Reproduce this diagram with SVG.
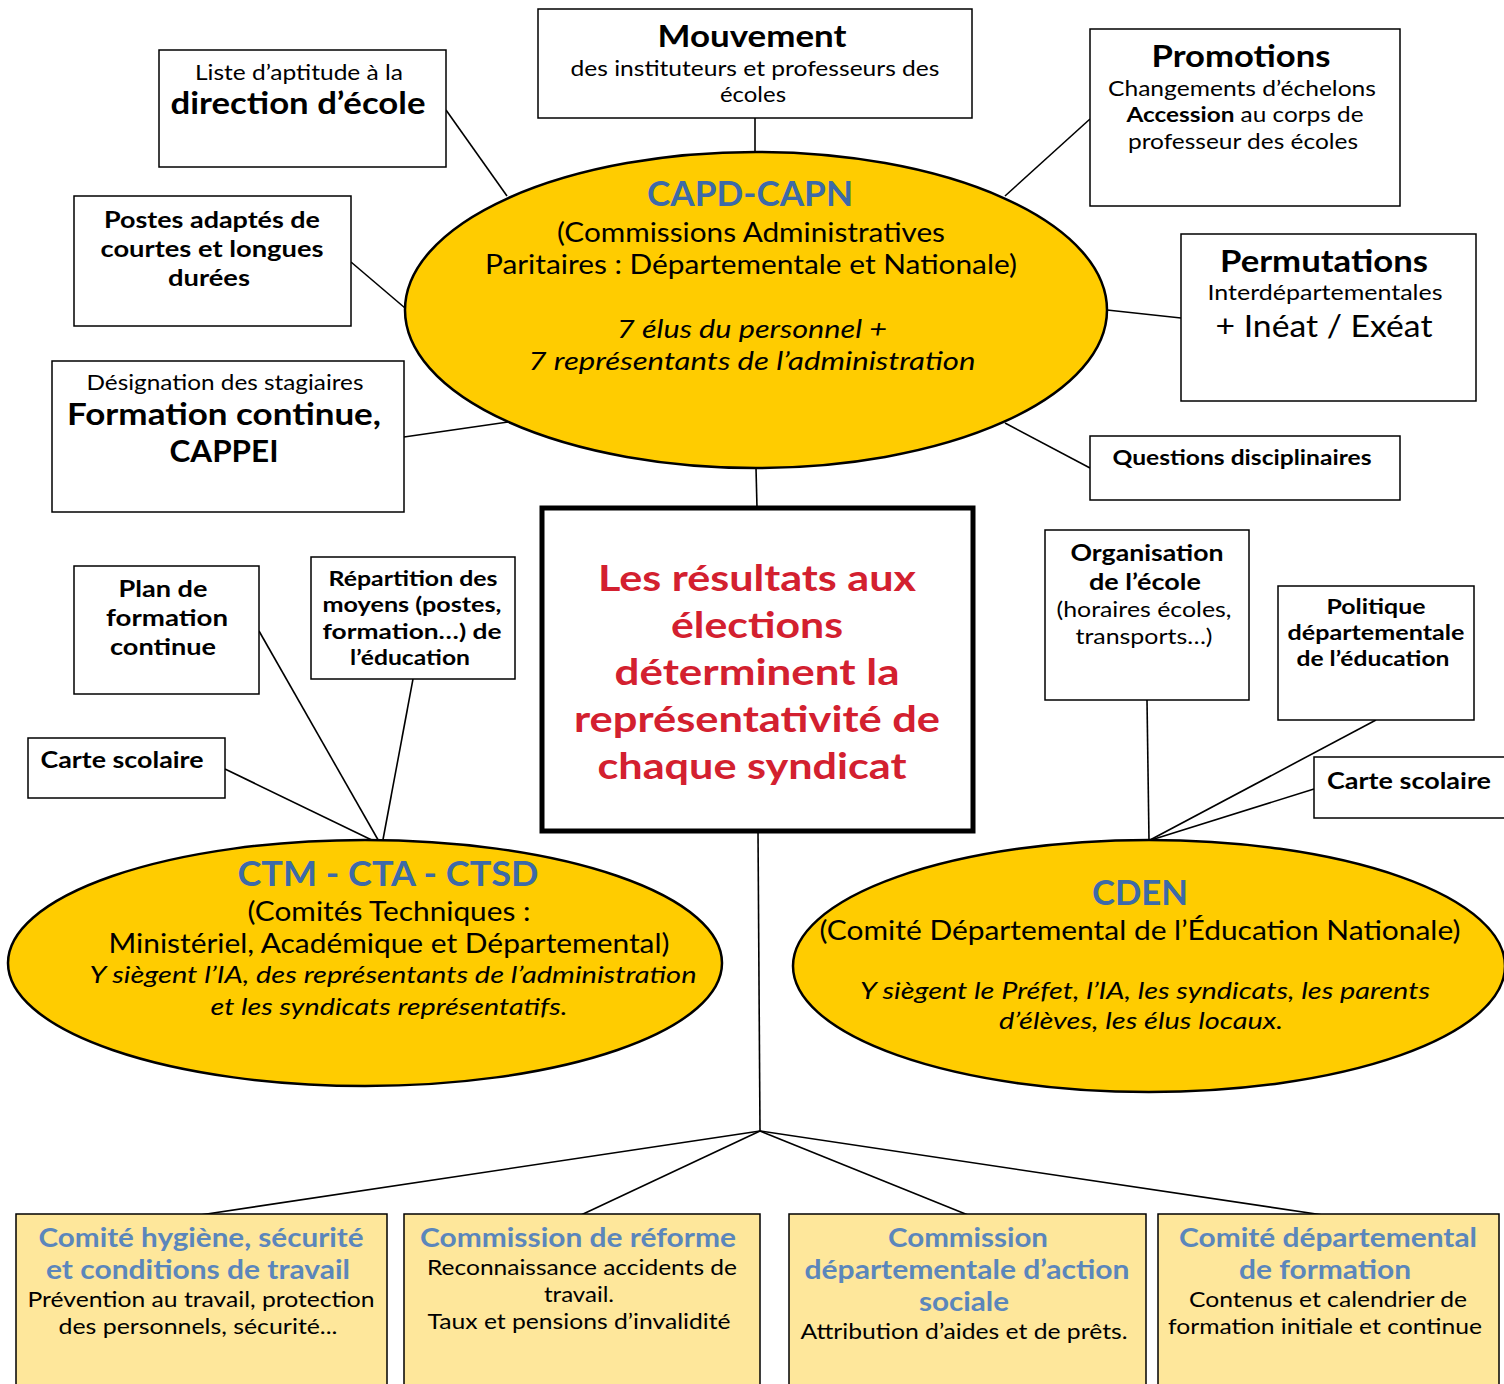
<svg xmlns="http://www.w3.org/2000/svg" width="1504" height="1384" viewBox="0 0 1504 1384">
<style>
text{font-family:Lato,"Liberation Sans",sans-serif;text-anchor:middle;fill:#000}
.b{font-weight:bold}
.i{font-style:italic}
.box{fill:#fff;stroke:#000;stroke-width:1.5}
.ell{fill:#ffcc00;stroke:#000;stroke-width:2.5}
.yb{fill:#fee79b;stroke:#000;stroke-width:1.5}
.blue{fill:#3d6aa8}
.lb{fill:#5b86bb}
.red{fill:#d3202f}
.c line{stroke:#000;stroke-width:1.6}
</style>
<rect width="1504" height="1384" fill="#fff"/>
<g class="c" id="connectors">
<line x1="755" y1="118" x2="755" y2="152"/>
<line x1="446" y1="110" x2="507" y2="196"/>
<line x1="351" y1="262" x2="405" y2="308"/>
<line x1="404" y1="437" x2="508" y2="422"/>
<line x1="1090" y1="119" x2="1005" y2="196"/>
<line x1="1181" y1="318" x2="1107" y2="310"/>
<line x1="1090" y1="468" x2="1005" y2="423"/>
<line x1="756" y1="468" x2="757" y2="508"/>
<line x1="758" y1="831" x2="760" y2="1131"/>
<line x1="760" y1="1131" x2="200" y2="1215"/>
<line x1="760" y1="1131" x2="581" y2="1215"/>
<line x1="760" y1="1131" x2="968" y2="1215"/>
<line x1="760" y1="1131" x2="1323" y2="1215"/>
<line x1="259" y1="631" x2="381" y2="845"/>
<line x1="413" y1="679" x2="382" y2="845"/>
<line x1="225" y1="769" x2="380" y2="844"/>
<line x1="1147" y1="700" x2="1149" y2="840"/>
<line x1="1376" y1="720" x2="1150" y2="840"/>
<line x1="1314" y1="789" x2="1151" y2="840"/>
</g>
<g id="liste">
<rect class="box" x="159" y="50" width="287" height="117"/>
<text x="299" y="80" font-size="21" textLength="208" lengthAdjust="spacingAndGlyphs">Liste d’aptitude à la</text>
<text class="b" x="298" y="114" font-size="30" textLength="255" lengthAdjust="spacingAndGlyphs">direction d’école</text>
</g>
<g id="mouvement">
<rect class="box" x="538" y="9" width="434" height="109"/>
<text class="b" x="752" y="47" font-size="30" textLength="189" lengthAdjust="spacingAndGlyphs">Mouvement</text>
<text x="755" y="76" font-size="21" textLength="369" lengthAdjust="spacingAndGlyphs">des instituteurs et professeurs des</text>
<text x="753" y="102" font-size="21" textLength="66" lengthAdjust="spacingAndGlyphs">écoles</text>
</g>
<g id="promotions">
<rect class="box" x="1090" y="29" width="310" height="177"/>
<text class="b" x="1241" y="67" font-size="30" textLength="179" lengthAdjust="spacingAndGlyphs">Promotions</text>
<text x="1242" y="96" font-size="21" textLength="268" lengthAdjust="spacingAndGlyphs">Changements d’échelons</text>
<text x="1245" y="122" font-size="21" textLength="237" lengthAdjust="spacingAndGlyphs"><tspan class="b">Accession</tspan> au corps de</text>
<text x="1243" y="149" font-size="21" textLength="230" lengthAdjust="spacingAndGlyphs">professeur des écoles</text>
</g>
<g id="postes">
<rect class="box" x="74" y="196" width="277" height="130"/>
<text class="b" x="212" y="228" font-size="23" textLength="216" lengthAdjust="spacingAndGlyphs">Postes adaptés de</text>
<text class="b" x="212" y="257" font-size="23" textLength="223" lengthAdjust="spacingAndGlyphs">courtes et longues</text>
<text class="b" x="209" y="286" font-size="23" textLength="82" lengthAdjust="spacingAndGlyphs">durées</text>
</g>
<g id="permutations">
<rect class="box" x="1181" y="234" width="295" height="167"/>
<text class="b" x="1324" y="272" font-size="30" textLength="208" lengthAdjust="spacingAndGlyphs">Permutations</text>
<text x="1325" y="300" font-size="21" textLength="235" lengthAdjust="spacingAndGlyphs">Interdépartementales</text>
<text x="1324" y="337" font-size="31" textLength="217" lengthAdjust="spacingAndGlyphs">+ Inéat / Exéat</text>
</g>
<g id="designation">
<rect class="box" x="52" y="361" width="352" height="151"/>
<text x="225" y="390" font-size="21" textLength="277" lengthAdjust="spacingAndGlyphs">Désignation des stagiaires</text>
<text class="b" x="224" y="425" font-size="30" textLength="314" lengthAdjust="spacingAndGlyphs">Formation continue,</text>
<text class="b" x="224" y="462" font-size="30" textLength="109" lengthAdjust="spacingAndGlyphs">CAPPEI</text>
</g>
<g id="questions">
<rect class="box" x="1090" y="436" width="310" height="64"/>
<text class="b" x="1242" y="465" font-size="21" textLength="259" lengthAdjust="spacingAndGlyphs">Questions disciplinaires</text>
</g>
<g id="capd">
<ellipse class="ell" cx="756" cy="310" rx="351" ry="158"/>
<text class="b blue" x="750" y="206" font-size="34" textLength="206" lengthAdjust="spacingAndGlyphs">CAPD-CAPN</text>
<text x="751" y="242" font-size="26" textLength="388" lengthAdjust="spacingAndGlyphs">(Commissions Administratives</text>
<text x="751" y="274" font-size="26" textLength="532" lengthAdjust="spacingAndGlyphs">Paritaires : Départementale et Nationale)</text>
<text class="i" x="752" y="338" font-size="26" textLength="270" lengthAdjust="spacingAndGlyphs">7 élus du personnel +</text>
<text class="i" x="752" y="370" font-size="26" textLength="447" lengthAdjust="spacingAndGlyphs">7 représentants de l’administration</text>
</g>
<g id="resultats">
<rect x="542" y="508" width="431" height="323" fill="#fff" stroke="#000" stroke-width="5"/>
<text class="b red" x="757" y="591" font-size="37" textLength="318" lengthAdjust="spacingAndGlyphs">Les résultats aux</text>
<text class="b red" x="757" y="638" font-size="37" textLength="172" lengthAdjust="spacingAndGlyphs">élections</text>
<text class="b red" x="757" y="685" font-size="37" textLength="285" lengthAdjust="spacingAndGlyphs">déterminent la</text>
<text class="b red" x="757" y="732" font-size="37" textLength="366" lengthAdjust="spacingAndGlyphs">représentativité de</text>
<text class="b red" x="752" y="779" font-size="37" textLength="309" lengthAdjust="spacingAndGlyphs">chaque syndicat</text>
</g>
<g id="plan">
<rect class="box" x="74" y="566" width="185" height="128"/>
<text class="b" x="163" y="597" font-size="23" textLength="89" lengthAdjust="spacingAndGlyphs">Plan de</text>
<text class="b" x="167" y="626" font-size="23" textLength="122" lengthAdjust="spacingAndGlyphs">formation</text>
<text class="b" x="163" y="655" font-size="23" textLength="106" lengthAdjust="spacingAndGlyphs">continue</text>
</g>
<g id="repartition">
<rect class="box" x="311" y="557" width="204" height="122"/>
<text class="b" x="413" y="586" font-size="21" textLength="169" lengthAdjust="spacingAndGlyphs">Répartition des</text>
<text class="b" x="412" y="612" font-size="21" textLength="179" lengthAdjust="spacingAndGlyphs">moyens (postes,</text>
<text class="b" x="412" y="639" font-size="21" textLength="179" lengthAdjust="spacingAndGlyphs">formation…)  de</text>
<text class="b" x="410" y="665" font-size="21" textLength="120" lengthAdjust="spacingAndGlyphs">l’éducation</text>
</g>
<g id="carte1">
<rect class="box" x="28" y="738" width="197" height="60"/>
<text class="b" x="122" y="768" font-size="23" textLength="163" lengthAdjust="spacingAndGlyphs">Carte scolaire</text>
</g>
<g id="ctm">
<ellipse class="ell" cx="365" cy="963" rx="357" ry="123"/>
<text class="b blue" x="388" y="886" font-size="34" textLength="301" lengthAdjust="spacingAndGlyphs">CTM - CTA - CTSD</text>
<text x="389" y="921" font-size="26" textLength="283" lengthAdjust="spacingAndGlyphs">(Comités Techniques :</text>
<text x="389" y="953" font-size="26" textLength="561" lengthAdjust="spacingAndGlyphs">Ministériel, Académique et Départemental)</text>
<text class="i" x="393" y="983" font-size="24" textLength="607" lengthAdjust="spacingAndGlyphs">Y siègent l’IA, des représentants de l’administration</text>
<text class="i" x="389" y="1015" font-size="24" textLength="357" lengthAdjust="spacingAndGlyphs">et les syndicats représentatifs.</text>
</g>
<g id="organisation">
<rect class="box" x="1045" y="530" width="204" height="170"/>
<text class="b" x="1147" y="561" font-size="23" textLength="153" lengthAdjust="spacingAndGlyphs">Organisation</text>
<text class="b" x="1145" y="590" font-size="23" textLength="112" lengthAdjust="spacingAndGlyphs">de l’école</text>
<text x="1144" y="617" font-size="21" textLength="175" lengthAdjust="spacingAndGlyphs">(horaires écoles,</text>
<text x="1144" y="644" font-size="21" textLength="137" lengthAdjust="spacingAndGlyphs">transports…)</text>
</g>
<g id="politique">
<rect class="box" x="1278" y="586" width="196" height="134"/>
<text class="b" x="1376" y="614" font-size="21" textLength="99" lengthAdjust="spacingAndGlyphs">Politique</text>
<text class="b" x="1376" y="640" font-size="21" textLength="177" lengthAdjust="spacingAndGlyphs">départementale</text>
<text class="b" x="1373" y="666" font-size="21" textLength="153" lengthAdjust="spacingAndGlyphs">de l’éducation</text>
</g>
<g id="carte2">
<rect class="box" x="1314" y="757" width="200" height="61"/>
<text class="b" x="1409" y="789" font-size="23" textLength="164" lengthAdjust="spacingAndGlyphs">Carte scolaire</text>
</g>
<g id="cden">
<ellipse class="ell" cx="1149" cy="966" rx="356" ry="126"/>
<text class="b blue" x="1140" y="905" font-size="34" textLength="96" lengthAdjust="spacingAndGlyphs">CDEN</text>
<text x="1140" y="940" font-size="26" textLength="641" lengthAdjust="spacingAndGlyphs">(Comité Départemental de l’Éducation Nationale)</text>
<text class="i" x="1145" y="999" font-size="24" textLength="570" lengthAdjust="spacingAndGlyphs">Y siègent le Préfet, l’IA, les syndicats, les parents</text>
<text class="i" x="1141" y="1029" font-size="24" textLength="284" lengthAdjust="spacingAndGlyphs">d’élèves, les élus locaux.</text>
</g>
<g id="chsct">
<rect class="yb" x="16" y="1214" width="371" height="180"/>
<text class="b lb" x="201" y="1247" font-size="26" textLength="325" lengthAdjust="spacingAndGlyphs">Comité hygiène, sécurité</text>
<text class="b lb" x="198" y="1279" font-size="26" textLength="304" lengthAdjust="spacingAndGlyphs">et conditions de travail</text>
<text x="201" y="1307" font-size="21" textLength="347" lengthAdjust="spacingAndGlyphs">Prévention au travail, protection</text>
<text x="198" y="1334" font-size="21" textLength="279" lengthAdjust="spacingAndGlyphs">des personnels, sécurité...</text>
</g>
<g id="reforme">
<rect class="yb" x="404" y="1214" width="356" height="180"/>
<text class="b lb" x="578" y="1247" font-size="26" textLength="316" lengthAdjust="spacingAndGlyphs">Commission de réforme</text>
<text x="582" y="1275" font-size="21" textLength="310" lengthAdjust="spacingAndGlyphs">Reconnaissance accidents de</text>
<text x="579" y="1302" font-size="21" textLength="70" lengthAdjust="spacingAndGlyphs">travail.</text>
<text x="579" y="1329" font-size="21" textLength="303" lengthAdjust="spacingAndGlyphs">Taux et pensions d’invalidité</text>
</g>
<g id="action">
<rect class="yb" x="789" y="1214" width="357" height="180"/>
<text class="b lb" x="968" y="1247" font-size="26" textLength="160" lengthAdjust="spacingAndGlyphs">Commission</text>
<text class="b lb" x="967" y="1279" font-size="26" textLength="325" lengthAdjust="spacingAndGlyphs">départementale d’action</text>
<text class="b lb" x="964" y="1311" font-size="26" textLength="90" lengthAdjust="spacingAndGlyphs">sociale</text>
<text x="964" y="1339" font-size="21" textLength="327" lengthAdjust="spacingAndGlyphs">Attribution d’aides et de prêts.</text>
</g>
<g id="formation">
<rect class="yb" x="1158" y="1214" width="341" height="180"/>
<text class="b lb" x="1328" y="1247" font-size="26" textLength="298" lengthAdjust="spacingAndGlyphs">Comité départemental</text>
<text class="b lb" x="1325" y="1279" font-size="26" textLength="172" lengthAdjust="spacingAndGlyphs">de formation</text>
<text x="1328" y="1307" font-size="21" textLength="278" lengthAdjust="spacingAndGlyphs">Contenus et calendrier de</text>
<text x="1325" y="1334" font-size="21" textLength="314" lengthAdjust="spacingAndGlyphs">formation initiale et continue</text>
</g>
</svg>
